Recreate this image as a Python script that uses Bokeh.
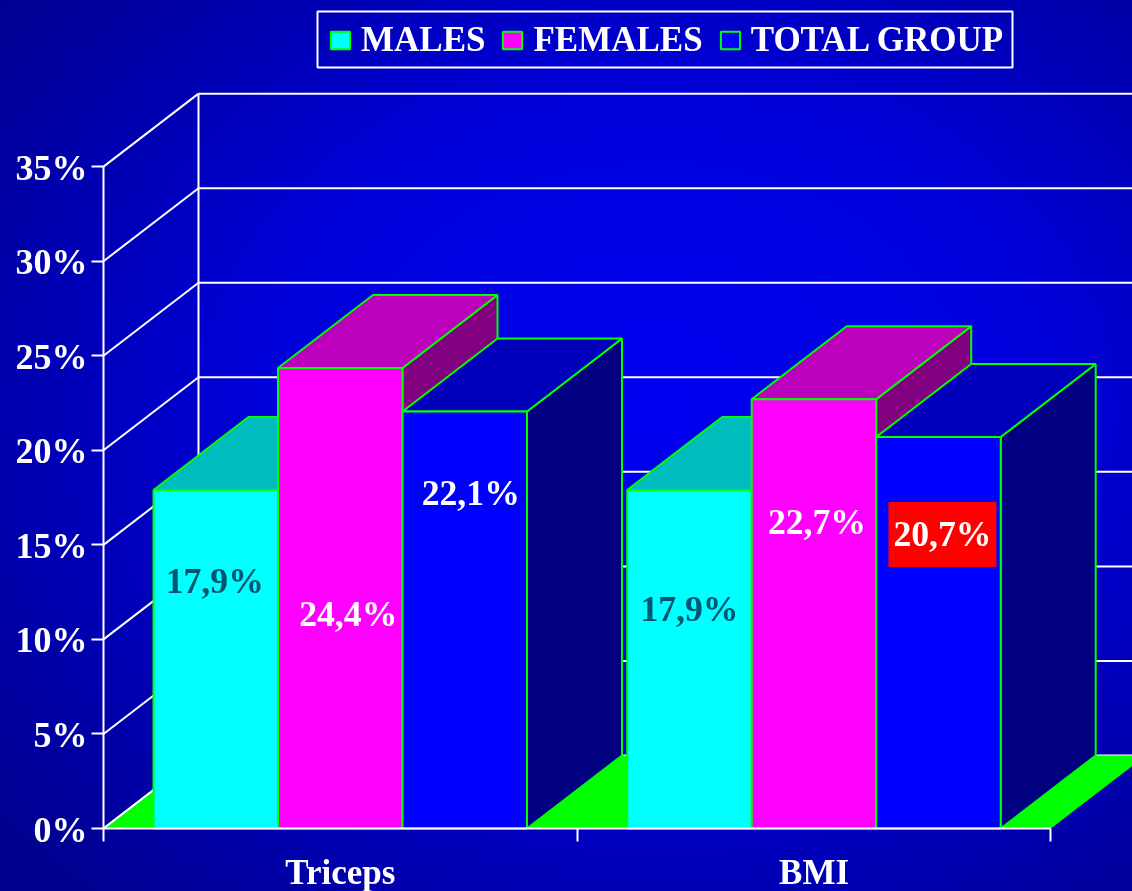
from bokeh.plotting import figure
from bokeh.models import LinearAxis, FixedTicker, Legend, LegendItem, BoxAnnotation
from bokeh.core.properties import value
from bokeh.embed import file_html
from bokeh.resources import INLINE

categories = ["Triceps", "BMI"]
males = [17.9, 17.9]
females = [24.35, 22.7]
total_group = [22.05, 20.7]
male_labels = ["17,9%", "17,9%"]
female_labels = ["24,4%", "22,7%"]
total_labels = ["22,1%", "20,7%"]
male_label_y = [13.08, 11.6]
female_label_y = [11.35, 16.2]
total_label_y = [17.72, 15.55]
y_ticks = [0, 5, 10, 15, 20, 25, 30, 35]

W, H = 1132, 891
X0, XU = 103, 473.7     # pixel of category edge 0, px per category
Y0, YU = 828, 18.91     # pixel of 0%, px per percent
DX = 95 / XU            # depth of the 3-D box in data units
DY = 73 / YU
BAR = 124.5 / XU
GAP = 50 / XU
SERIF = "Liberation Serif"
GREEN = "#00ff00"

p = figure(width=W, height=H, output_backend="svg", toolbar_location=None,
           x_range=(-X0 / XU, (W - X0) / XU), y_range=((Y0 - H) / YU, Y0 / YU),
           min_border=0, x_axis_location=None, y_axis_location=None)
p.grid.visible = False
p.outline_line_color = None
p.background_fill_alpha = 0
p.border_fill_alpha = 0
p.styles = {"position": "fixed", "left": "0", "top": "0",
            "background": "radial-gradient(ellipse 75% 75% at 58% 46%, #0000f2 0%, #0000dc 45%, #0000b0 75%, #00008e 100%)"}

# back wall grid and side wall diagonals
xend = (W - X0) / XU + 0.1
p.segment(x0=[DX] * len(y_ticks), y0=[v + DY for v in y_ticks],
          x1=[xend] * len(y_ticks), y1=[v + DY for v in y_ticks], line_color="white", line_width=2)
p.segment(x0=[0] * len(y_ticks), y0=y_ticks, x1=[DX] * len(y_ticks),
          y1=[v + DY for v in y_ticks], line_color="white", line_width=2)
p.segment(x0=[DX], y0=[DY], x1=[DX], y1=[35 + DY], line_color="white", line_width=2)

# floor
n = len(categories)
p.patch([0, DX, n + DX, n], [0, DY, DY, 0], fill_color=GREEN, line_color=None)
p.segment(x0=[0], y0=[0], x1=[DX], y1=[DY], line_color="white", line_width=2)

series = [
    (males, "#00ffff", "#00bcbc", "#008080", "MALES"),
    (females, "#ff00ff", "#bc00bc", "#800080", "FEMALES"),
    (total_group, "#0000ff", "#0000bc", "#000080", "TOTAL GROUP"),
]
items = []
for s, (vals, front, top, side, name) in enumerate(series):
    left = [i + GAP + s * BAR for i in range(n)]
    right = [l + BAR for l in left]
    p.patches([[r, r + DX, r + DX, r] for r in right],
              [[0, DY, v + DY, v] for v in vals],
              fill_color=side, line_color=GREEN, line_width=2)
    p.patches([[l, l + DX, r + DX, r] for l, r in zip(left, right)],
              [[v, v + DY, v + DY, v] for v in vals],
              fill_color=top, line_color=GREEN, line_width=2)
    q = p.quad(left=left, right=right, bottom=[0] * n, top=vals,
               fill_color=front, line_color=GREEN, line_width=2)
    items.append(LegendItem(label=name, renderers=[q]))

# red highlight behind one value
p.rect(x=[1 + GAP + 2.5 * BAR + 4 / XU], y=[total_label_y[1]], width=108, height=65,
       width_units="screen", height_units="screen", fill_color="#ff0000", line_color=None)

def labels(texts, ys, s, offs, color):
    xs = [i + GAP + (s + 0.5) * BAR + o / XU for i, o in enumerate(offs)]
    p.text(xs, ys, text=texts, text_font=value(SERIF), text_font_style="bold",
           text_font_size=value("35.7px"), text_color=color,
           text_align="center", text_baseline="middle")

labels(male_labels, male_label_y, 0, [-1, 0], "#005570")
labels(female_labels, female_label_y, 1, [8, 3], "white")
labels(total_labels, total_label_y, 2, [6, 4], "white")

# axes
yax = LinearAxis(fixed_location=0, bounds=(0, 35), ticker=FixedTicker(ticks=y_ticks),
                 major_label_overrides={v: "" for v in y_ticks})
yax.axis_line_color = "white"; yax.axis_line_width = 2
yax.major_tick_line_color = "white"; yax.major_tick_line_width = 2
yax.major_tick_in = 0; yax.major_tick_out = 12
yax.minor_tick_line_color = None
p.add_layout(yax, "left")

# tick labels, sitting slightly below their ticks as in the reference
p.text([0] * len(y_ticks), y_ticks, text=[f"{v}%" for v in y_ticks],
       x_offset=-16, y_offset=1, text_align="right", text_baseline="middle",
       text_font=value(SERIF), text_font_style="bold", text_font_size=value("36px"),
       text_color="white")

xax = LinearAxis(fixed_location=0, bounds=(0, n), ticker=FixedTicker(ticks=list(range(n + 1))),
                 major_label_overrides={i: "" for i in range(n + 1)})
xax.axis_line_color = "white"; xax.axis_line_width = 2
xax.major_tick_line_color = "white"; xax.major_tick_line_width = 2
xax.major_tick_in = 0; xax.major_tick_out = 13
xax.minor_tick_line_color = None
p.add_layout(xax, "below")

cax = LinearAxis(fixed_location=0, ticker=FixedTicker(ticks=[i + 0.5 for i in range(n)]),
                 major_label_overrides={i + 0.5: c for i, c in enumerate(categories)})
cax.axis_line_color = None
cax.major_tick_line_color = None
cax.minor_tick_line_color = None
cax.major_label_text_color = "white"
cax.major_label_text_font = SERIF
cax.major_label_text_font_style = "bold"
cax.major_label_text_font_size = "35px"
cax.major_label_standoff = 18
p.add_layout(cax, "below")

legend = Legend(items=items, orientation="horizontal", location=(328, H - 60),
                margin=0, padding=13, spacing=15, glyph_width=24, glyph_height=22,
                label_standoff=9, label_height=30,
                border_line_color=None, background_fill_alpha=0,
                label_text_color="white", label_text_font=SERIF,
                label_text_font_style="bold", label_text_font_size="35px")
p.add_layout(legend)

p.add_layout(BoxAnnotation(left=317, right=1012, top=H - 11, bottom=H - 67,
                           left_units="screen", right_units="screen",
                           top_units="screen", bottom_units="screen",
                           fill_alpha=0, line_color="white", line_alpha=1, line_width=2))

open("out.html", "w").write(file_html(p, INLINE))
